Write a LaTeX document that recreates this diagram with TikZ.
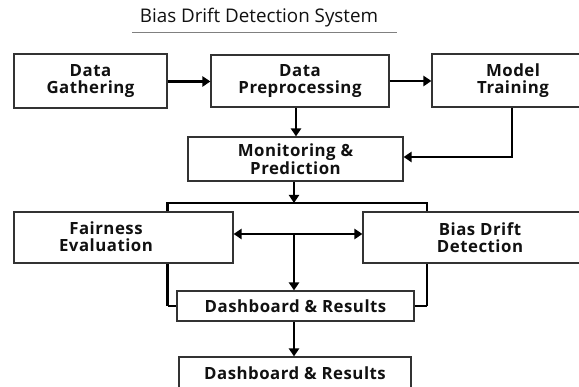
\documentclass[tikz,border=0pt]{standalone}
\usepackage{fontspec}
\setmainfont{Open Sans}
\newfontfamily\boxfont[LetterSpace=3]{Open Sans}
\usetikzlibrary{arrows.meta}
\definecolor{boxline}{HTML}{333333}
\definecolor{ink}{HTML}{111111}
\tikzset{
  blk/.style={draw=boxline, line width=1.1pt, fill=white, inner sep=0pt, align=center,
     font=\boxfont\fontsize{16.8}{16.5}\selectfont\bfseries, text=ink},
  lbl/.style={inner sep=0pt, align=center, font=\boxfont\fontsize{16.8}{16.5}\selectfont\bfseries, text=ink},
  conn/.style={line width=2.6pt, draw=black, -{Triangle[length=8pt,width=10pt]}},
  plain/.style={line width=2.6pt, draw=black},
}
\begin{document}
\begin{tikzpicture}[x=1pt,y=-1pt]
\clip (0,0) rectangle (579,387);
\fill[white] (0,0) rectangle (579,387);
% title
\node[inner sep=0pt, font=\fontsize{18.8}{20}\selectfont, text=ink] (title) at (259,18) {Bias Drift Detection System};
\coordinate (ul1) at (132,32);
\coordinate (ul2) at (397,32);
\draw[gray, line width=0.8pt] (ul1) -- (ul2);
% bracket coordinates
\coordinate (bl1) at (167.5,203);
\coordinate (br1) at (427,203);
\coordinate (bl2) at (167.5,306);
\coordinate (br2) at (427,306);
\coordinate (jn) at (294,234);
\draw[plain] (bl2) -- (bl1) -- (br1) -- (br2);
% boxes
\node[blk, minimum width=153pt, minimum height=54pt] (dg) at (90.5,81) {Data\\Gathering};
\node[blk, minimum width=178pt, minimum height=52pt] (dp) at (300,81) {Data\\Preprocessing};
\node[blk, minimum width=162pt, minimum height=53pt] (mt) at (513,80.5) {Model\\Training};
\node[blk, minimum width=215pt, minimum height=44pt] (mp) at (295.5,159) {Monitoring \&\\Prediction};
\node[blk, minimum width=219pt, minimum height=51pt] (fe) at (123.5,237.5) {};
\node[lbl] (fetext) at (106,236.5) {Fairness\\Evaluation};
\node[blk, minimum width=234pt, minimum height=51pt] (bd) at (480,237.5) {Bias Drift\\Detection};
\node[blk, minimum width=237pt, minimum height=30pt] (dr1) at (295.5,306) {Dashboard \& Results};
\node[blk, minimum width=232pt, minimum height=32pt] (dr2) at (295,373) {Dashboard \& Results};
% connectors
\draw[conn] (dg.east |- 0,81.5) -- (dp.west |- 0,81.5);
\draw[conn] (dp.east |- 0,81) -- (mt.west |- 0,81);
\draw[conn] (dp.south -| 296,0) -- (mp.north -| 296,0);
\draw[conn] (mt.south -| 512,0) -- (512,157) -- (mp.east |- 0,157);
\draw[conn] (mp.south -| 294,0) -- (294,203);
\draw[plain] (bl2) -- (dr1.west |- bl2);
\draw[plain] (br2) -- (dr1.east |- br2);
\draw[line width=2.6pt, {Triangle[length=8pt,width=10pt]}-{Triangle[length=8pt,width=10pt]}] (fe.east |- jn) -- (bd.west |- jn);
\draw[conn] (jn) -- (dr1.north -| jn);
\draw[conn] (dr1.south -| 294,0) -- (dr2.north -| 294,0);
\end{tikzpicture}
\end{document}
